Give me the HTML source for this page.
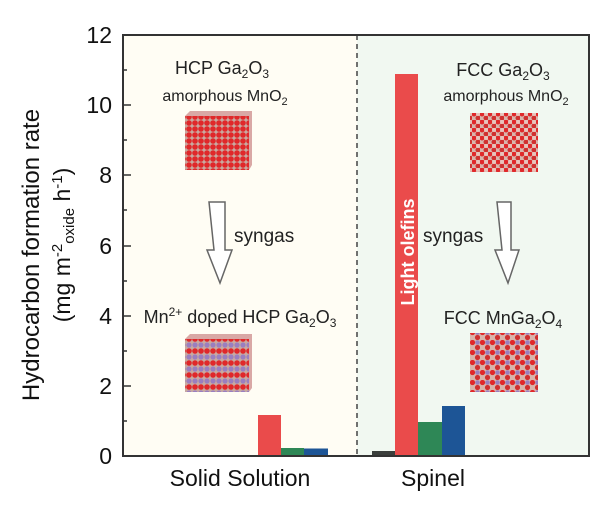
<!DOCTYPE html>
<html><head><style>body{margin:0;background:#fff}svg{display:block}</style></head><body>
<svg width="600" height="517" xmlns="http://www.w3.org/2000/svg" font-family="Liberation Sans, sans-serif">
<defs>
<pattern id="hcp" width="6" height="6" patternUnits="userSpaceOnUse"><rect width="6" height="6" fill="#c9a9a0"/><circle cx="3" cy="3" r="2.8" fill="#e0282a"/></pattern>
<pattern id="hcpm" width="6" height="12" patternUnits="userSpaceOnUse"><rect width="6" height="12" fill="#c9a9a0"/><circle cx="3" cy="3" r="2.8" fill="#e0282a"/><circle cx="3" cy="9" r="2.6" fill="#9a7fc0"/></pattern>
<pattern id="fcc" width="8" height="8" patternUnits="userSpaceOnUse"><rect width="8" height="8" fill="#d9b5ac"/><circle cx="2" cy="2" r="2.5" fill="#e0282a"/><circle cx="6" cy="6" r="2.5" fill="#d0302f"/><circle cx="6" cy="2" r="2" fill="#e8c4bc"/></pattern>
<pattern id="fccm" width="10" height="10" patternUnits="userSpaceOnUse"><rect width="10" height="10" fill="#d9b5ac"/><circle cx="2.5" cy="2.5" r="2.6" fill="#e0282a"/><circle cx="7.5" cy="7.5" r="2.6" fill="#d0302f"/><circle cx="7.5" cy="2.5" r="2.3" fill="#9a7fc0"/></pattern>
</defs>
<rect x="123" y="35" width="234" height="421" fill="#fffdf4"/>
<rect x="357" y="35" width="232" height="421" fill="#f1f8f1"/>
<line x1="357" y1="35" x2="357" y2="456" stroke="#444" stroke-width="1.5" stroke-dasharray="5,4"/>
<rect x="234" y="455" width="24" height="1" fill="#333"/>
<rect x="258" y="415" width="23" height="41" fill="#ea4b4b"/>
<rect x="281" y="448" width="23" height="8" fill="#2e8756"/>
<rect x="304" y="448.5" width="24" height="7.5" fill="#1d5596"/>
<rect x="372" y="451" width="23" height="5" fill="#3b3f3c"/>
<rect x="395" y="74" width="23" height="382" fill="#ea4b4b"/>
<rect x="418" y="422" width="24" height="34" fill="#2e8756"/>
<rect x="442" y="406" width="23" height="50" fill="#1d5596"/>
<text transform="translate(414,252) rotate(-90)" text-anchor="middle" fill="#fff" font-size="18" font-weight="bold">Light olefins</text>
<rect x="185" y="116" width="64" height="54" fill="url(#hcp)"/><path d="M185,116 L190,111 L252,111 L252,165 L249,170 L249,116 Z" fill="#c07070" opacity="0.6"/>
<rect x="185" y="339" width="64" height="53" fill="url(#hcpm)"/><path d="M185,339 L190,334 L252,334 L252,388 L249,392 L249,339 Z" fill="#c07070" opacity="0.6"/>
<rect x="470" y="113" width="68" height="59" fill="url(#fcc)"/>
<rect x="470" y="333" width="68" height="59" fill="url(#fccm)"/>
<path d="M209,202 L225,202 L225,250 L232,250 L220,283 L207,250 L214,250 Z" fill="#fff" stroke="#666" stroke-width="1.5"/>
<path d="M497,202 L511,202 L511,250 L519,250 L508,283 L495,250 L502,250 Z" fill="#fff" stroke="#666" stroke-width="1.5"/>
<g fill="#222">
<text x="222" y="74" text-anchor="middle" font-size="18">HCP Ga<tspan font-size="12" dy="4">2</tspan><tspan dy="-4">O</tspan><tspan font-size="12" dy="4">3</tspan></text>
<text x="225" y="101" text-anchor="middle" font-size="16">amorphous MnO<tspan font-size="11" dy="4">2</tspan></text>
<text x="234" y="242" font-size="19">syngas</text>
<text x="240" y="323" text-anchor="middle" font-size="18">Mn<tspan font-size="12" dy="-7">2+</tspan><tspan dy="7"> doped HCP Ga</tspan><tspan font-size="12" dy="4">2</tspan><tspan dy="-4">O</tspan><tspan font-size="12" dy="4">3</tspan></text>
<text x="503" y="76" text-anchor="middle" font-size="18">FCC Ga<tspan font-size="12" dy="4">2</tspan><tspan dy="-4">O</tspan><tspan font-size="12" dy="4">3</tspan></text>
<text x="506" y="101" text-anchor="middle" font-size="16">amorphous MnO<tspan font-size="11" dy="4">2</tspan></text>
<text x="423" y="242" font-size="19">syngas</text>
<text x="503" y="324" text-anchor="middle" font-size="18">FCC MnGa<tspan font-size="12" dy="4">2</tspan><tspan dy="-4">O</tspan><tspan font-size="12" dy="4">4</tspan></text>
</g>
<rect x="123" y="35" width="466" height="421" fill="none" stroke="#333" stroke-width="2"/>
<g stroke="#333" stroke-width="1.5">
<line x1="123" y1="35" x2="131" y2="35"/><line x1="123" y1="105" x2="131" y2="105"/><line x1="123" y1="175" x2="131" y2="175"/><line x1="123" y1="246" x2="131" y2="246"/><line x1="123" y1="316" x2="131" y2="316"/><line x1="123" y1="386" x2="131" y2="386"/>
<line x1="123" y1="70" x2="127" y2="70"/><line x1="123" y1="140" x2="127" y2="140"/><line x1="123" y1="210" x2="127" y2="210"/><line x1="123" y1="281" x2="127" y2="281"/><line x1="123" y1="351" x2="127" y2="351"/><line x1="123" y1="421" x2="127" y2="421"/>
</g>
<g font-size="23" fill="#111" text-anchor="end">
<text x="112" y="43">12</text><text x="112" y="113">10</text><text x="112" y="183">8</text><text x="112" y="254">6</text><text x="112" y="324">4</text><text x="112" y="394">2</text><text x="112" y="464">0</text>
</g>
<text x="240" y="486" text-anchor="middle" font-size="23" fill="#111">Solid Solution</text>
<text x="433" y="486" text-anchor="middle" font-size="23" fill="#111">Spinel</text>
<text transform="translate(39,255) rotate(-90)" text-anchor="middle" font-size="24" fill="#111">Hydrocarbon formation rate</text>
<text transform="translate(70,245) rotate(-90)" text-anchor="middle" font-size="23" fill="#111">(mg m<tspan font-size="15" dy="-8">-2</tspan><tspan font-size="15" dy="12">oxide</tspan><tspan dy="-4"> h</tspan><tspan font-size="15" dy="-8">-1</tspan><tspan dy="8">)</tspan></text>
</svg>
</body></html>
